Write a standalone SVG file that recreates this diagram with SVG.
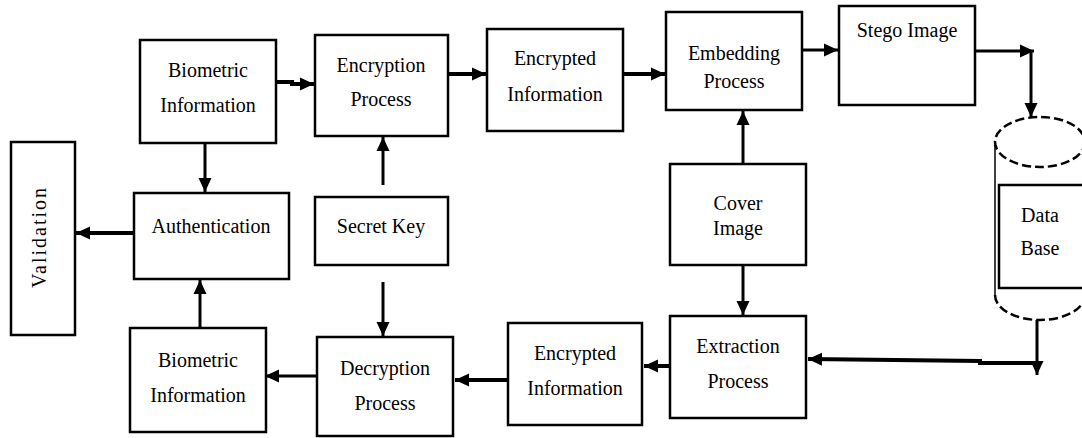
<svg xmlns="http://www.w3.org/2000/svg" width="1082" height="438" viewBox="0 0 1082 438">
<style>
.box{fill:#fff;stroke:#000;stroke-width:2.5}
.t{font-family:"Liberation Serif","Times New Roman",serif;font-size:20px;fill:#000;text-anchor:middle}
.c{fill:none;stroke:#000;stroke-width:4}
.c3{fill:none;stroke:#000;stroke-width:3}
.dash{fill:none;stroke:#000;stroke-width:2.5;stroke-dasharray:9 4}
.thin{fill:none;stroke:#000;stroke-width:1.5}
</style>
<defs>
<marker id="ah" markerUnits="userSpaceOnUse" markerWidth="16" markerHeight="14" refX="14" refY="7" orient="auto">
<path d="M0,0.5 L14,7 L0,13.5 Z" fill="#000"/>
</marker>
</defs>
<rect width="1082" height="438" fill="#fff"/>
<g id="connectors">
<path class="c" d="M272,82 L292,82 L292,84 L314,84" marker-end="url(#ah)"/>
<path class="c" d="M448,74 L486,74" marker-end="url(#ah)"/>
<path class="c" d="M623,74 L665,74" marker-end="url(#ah)"/>
<path class="c3" d="M802,50 L838,50" marker-end="url(#ah)"/>
<path class="c3" d="M975,51 L1034,51" marker-end="url(#ah)"/>
<path class="c3" d="M1031,51 L1031,117" marker-end="url(#ah)"/>
<path class="c3" d="M743,164 L743,111" marker-end="url(#ah)"/>
<path class="c3" d="M743,265 L743,315" marker-end="url(#ah)"/>
<path class="c3" d="M1037,320 L1037,375" marker-end="url(#ah)"/>
<path class="c" d="M1037,363 L980,363 L980,361 L808,359" marker-end="url(#ah)"/>
<path class="c" d="M670,366 L644,366" marker-end="url(#ah)"/>
<path class="c" d="M508,380 L455,380" marker-end="url(#ah)"/>
<path class="c3" d="M317,376 L265,376" marker-end="url(#ah)"/>
<path class="c3" d="M383,282 L383,336" marker-end="url(#ah)"/>
<path class="c3" d="M383,185 L383,137" marker-end="url(#ah)"/>
<path class="c3" d="M205,143 L205,192" marker-end="url(#ah)"/>
<path class="c3" d="M200,328 L200,280" marker-end="url(#ah)"/>
<path class="c" d="M134,233 L76,233" marker-end="url(#ah)"/>
</g>
<g id="validation">
<rect class="box" x="11" y="142" width="64" height="193"/>
<text class="t" transform="translate(46,237) rotate(-90)" letter-spacing="2">Validation</text>
</g>
<g id="biometric-top">
<rect class="box" x="140" y="40" width="136" height="103"/>
<text class="t" x="208" y="77">Biometric</text>
<text class="t" x="208" y="112">Information</text>
</g>
<g id="encryption">
<rect class="box" x="315" y="35" width="133" height="101"/>
<text class="t" x="381" y="72">Encryption</text>
<text class="t" x="381" y="106">Process</text>
</g>
<g id="encrypted-top">
<rect class="box" x="487" y="29" width="136" height="102"/>
<text class="t" x="555" y="65">Encrypted</text>
<text class="t" x="555" y="101">Information</text>
</g>
<g id="embedding">
<rect class="box" x="666" y="12" width="136" height="98"/>
<text class="t" x="734" y="60">Embedding</text>
<text class="t" x="734" y="88">Process</text>
</g>
<g id="stego">
<rect class="box" x="839" y="6" width="136" height="99"/>
<text class="t" x="907" y="37">Stego Image</text>
</g>
<g id="cover">
<rect class="box" x="670" y="164" width="136" height="101"/>
<text class="t" x="738" y="210">Cover</text>
<text class="t" x="738" y="235">Image</text>
</g>
<g id="database">
<path class="thin" d="M995,142 L995,295"/>
<ellipse class="dash" cx="1040" cy="142" rx="45" ry="25"/>
<path class="dash" d="M995,295 A45,25 0 0 0 1085,295"/>
<rect class="box" x="999" y="185" width="95" height="103"/>
<text class="t" x="1040" y="222">Data</text>
<text class="t" x="1040" y="255">Base</text>
</g>
<g id="authentication">
<rect class="box" x="134" y="193" width="155" height="86"/>
<text class="t" x="211" y="233">Authentication</text>
</g>
<g id="secret-key">
<rect class="box" x="315" y="197" width="133" height="68"/>
<text class="t" x="381" y="233">Secret Key</text>
</g>
<g id="biometric-bottom">
<rect class="box" x="130" y="328" width="136" height="104"/>
<text class="t" x="198" y="367">Biometric</text>
<text class="t" x="198" y="402">Information</text>
</g>
<g id="decryption">
<rect class="box" x="317" y="337" width="136" height="99"/>
<text class="t" x="385" y="375">Decryption</text>
<text class="t" x="385" y="410">Process</text>
</g>
<g id="encrypted-bottom">
<rect class="box" x="508" y="323" width="134" height="102"/>
<text class="t" x="575" y="360">Encrypted</text>
<text class="t" x="575" y="395">Information</text>
</g>
<g id="extraction">
<rect class="box" x="670" y="316" width="136" height="102"/>
<text class="t" x="738" y="353">Extraction</text>
<text class="t" x="738" y="388">Process</text>
</g>
</svg>
